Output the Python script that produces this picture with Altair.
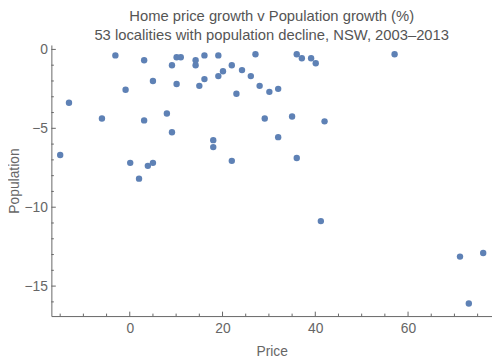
import altair as alt
import pandas as pd

# Data (Price growth %, Population growth %)
price = [-15.0, -13.1, -6.0, -3.1, -0.9, 0.1, 2.0, 3.1, 3.1, 3.9,
         5.0, 5.0, 8.0, 9.1, 9.1, 10.1, 10.1, 11.0, 14.2, 14.2,
         15.0, 16.1, 16.1, 18.0, 18.0, 19.1, 19.1, 20.1, 22.0, 22.0,
         23.0, 24.2, 26.1, 27.1, 28.0, 29.1, 30.1, 32.0, 32.0, 35.0,
         36.0, 36.0, 37.1, 39.1, 40.1, 41.2, 42.0, 57.1, 71.2, 73.1,
         76.2]
population = [-6.69, -3.38, -4.38, -0.38, -2.56, -7.19, -8.19, -0.69, -4.5, -7.38,
              -2.0, -7.19, -4.06, -1.0, -5.25, -2.19, -0.5, -0.5, -0.69, -1.0,
              -2.31, -0.38, -1.88, -5.75, -6.19, -0.38, -1.69, -1.38, -1.0, -7.06,
              -2.81, -1.31, -1.69, -0.31, -2.31, -4.38, -2.69, -2.5, -5.56, -4.25,
              -6.88, -0.31, -0.56, -0.56, -0.88, -10.88, -4.56, -0.31, -13.13, -16.1,
              -12.9]

x_major = [0, 20, 40, 60]
x_minor = [-15, -10, -5, 5, 10, 15, 25, 30, 35, 45, 50, 55, 65, 70, 75]
y_major = [0, -5, -10, -15]
y_minor = [-1, -2, -3, -4, -6, -7, -8, -9, -11, -12, -13, -14, -16]

title_lines = ["Home price growth v Population growth (%)",
               "53 localities with population decline, NSW, 2003\u20132013"]

W, H = 447, 275
AX = "#666666"
FONT = "Liberation Sans"

xscale = alt.Scale(domain=[-16.9, 78.1], nice=False, zero=False)
yscale = alt.Scale(domain=[-16.9, 0.28], nice=False, zero=False)

xaxis = alt.Axis(values=x_major, ticks=False, tickSize=0, grid=False,
                 domainColor=AX, labelColor=AX, labelFontSize=14,
                 labelFont=FONT, labelPadding=6, labelFlush=False,
                 title="Price", titleFont=FONT, titleFontSize=14,
                 titleFontWeight="normal", titleColor=AX,
                 titleBaseline="middle", titleY=35.5, titleX=W / 2)
yaxis = alt.Axis(values=y_major, ticks=False, tickSize=0, grid=False,
                 domainColor=AX, labelColor=AX, labelFontSize=14,
                 labelFont=FONT, labelPadding=4, labelFlush=False,
                 title="Population", titleFont=FONT, titleFontSize=14,
                 titleFontWeight="normal", titleColor=AX,
                 titleAngle=270, titleAlign="center",
                 titleBaseline="alphabetic", titleX=-33.5, titleY=H / 2)

df = pd.DataFrame({"Price": price, "Population": population})

points = alt.Chart(df).mark_circle(size=42, color="#5E81B5", opacity=1).encode(
    x=alt.X("Price:Q", scale=xscale, axis=xaxis),
    y=alt.Y("Population:Q", scale=yscale, axis=yaxis),
)

def xticks(vals, length):
    d = pd.DataFrame({"Price": vals})
    return alt.Chart(d).mark_rule(color=AX, strokeWidth=1).encode(
        x=alt.X("Price:Q", scale=xscale, axis=xaxis),
        y=alt.value(H), y2=alt.value(H - length))

def yticks(vals, length):
    d = pd.DataFrame({"Population": vals})
    return alt.Chart(d).mark_rule(color=AX, strokeWidth=1).encode(
        y=alt.Y("Population:Q", scale=yscale, axis=yaxis),
        x=alt.value(0), x2=alt.value(length))

chart = alt.layer(
    points,
    xticks(x_major, 4.5), xticks(x_minor, 2.5),
    yticks(y_major, 4.5), yticks(y_minor, 2.5),
).properties(
    width=W, height=H,
    title=alt.TitleParams(text=title_lines, fontSize=15, font=FONT, color="#555555",
                          fontWeight="normal", anchor="middle", lineHeight=19,
                          baseline="alphabetic", offset=3, dy=15),
    autosize=alt.AutoSizeParams(type="none"),
    padding={"left": 44, "top": 35, "right": 0, "bottom": 41},
).configure_view(stroke=None)

chart.save("out.html", embed_options={"renderer": "svg", "actions": False})
